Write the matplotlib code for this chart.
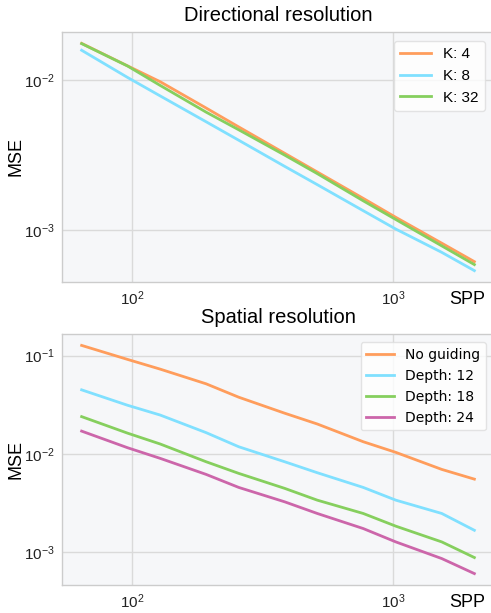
import matplotlib
matplotlib.use("Agg")
import matplotlib.pyplot as plt

# samples per pixel
spp = [64, 96, 128, 192, 256, 384, 512, 768, 1024, 1536, 2048]

# directional resolution
dir_labels = ["K: 4", "K: 8", "K: 32"]
mse_k4 = [0.01757, 0.01243, 0.00974, 0.00650, 0.00486, 0.00324, 0.00243, 0.00162, 0.00121, 0.000813, 0.000612]
mse_k8 = [0.0158, 0.0104, 0.00783, 0.00526, 0.00396, 0.00265, 0.00200, 0.00134, 0.00101, 0.000706, 0.000533]
mse_k32 = [0.0175, 0.0124, 0.0092, 0.0061, 0.00465, 0.00315, 0.00237, 0.00156, 0.00117, 0.00078, 0.000585]

# spatial resolution
spa_labels = ["No guiding", "Depth: 12", "Depth: 18", "Depth: 24"]
mse_none = [0.127, 0.0915, 0.0729, 0.0517, 0.0378, 0.0260, 0.0202, 0.01334, 0.0104, 0.00698, 0.00556]
mse_d12 = [0.0449, 0.0313, 0.0249, 0.0165, 0.01186, 0.00835, 0.00646, 0.00458, 0.0034, 0.00249, 0.00168]
mse_d18 = [0.0240, 0.0163, 0.01265, 0.00835, 0.00636, 0.00448, 0.0034, 0.00249, 0.00185, 0.00128, 0.000888]
mse_d24 = [0.0171, 0.01159, 0.00904, 0.00621, 0.00458, 0.00327, 0.00249, 0.00175, 0.00128, 0.000867, 0.00061]

orange = "#ff9d5c"
blue = "#80e0ff"
green = "#86cf5e"
purple = "#cc66aa"

plt.rcParams["font.family"] = ["Liberation Sans", "DejaVu Sans"]

W, H = 491, 613
fig = plt.figure(figsize=(W / 100, H / 100), dpi=100)


def style_axes(ax):
    ax.set_facecolor("#f6f7f9")
    ax.set_xscale("log")
    ax.set_yscale("log")
    ax.grid(True, which="major", color="#dadada", linewidth=1.0)
    ax.minorticks_off()
    ax.tick_params(length=0, labelsize=11, colors="#222222", pad=5)
    for side in ["left", "bottom", "top"]:
        ax.spines[side].set_color("#cccccc")
        ax.spines[side].set_linewidth(1.0)
    ax.spines["right"].set_visible(False)
    ax.set_axisbelow(True)
    ax.set_ylabel("MSE", fontsize=13, labelpad=0)
    ax.set_xlabel("SPP", fontsize=13)
    ax.xaxis.set_label_coords(0.937, -0.035)


# axes boxes in pixels: left, top, right, bottom
ax1 = fig.add_axes([62 / W, 1 - 282 / H, 432 / W, 250 / H])
ax2 = fig.add_axes([62 / W, 1 - 585 / H, 432 / W, 251 / H])

ax1.plot(spp, mse_k4, color=orange, lw=2, label=dir_labels[0])
ax1.plot(spp, mse_k8, color=blue, lw=2, label=dir_labels[1])
ax1.plot(spp, mse_k32, color=green, lw=2, label=dir_labels[2])
style_axes(ax1)
ax1.set_title("Directional resolution", fontsize=14.5, pad=8)
leg1 = ax1.legend(loc="upper right", fontsize=11, frameon=True, fancybox=True,
                  borderaxespad=0.6)
leg1.get_frame().set_edgecolor("#dddddd")
leg1.get_frame().set_facecolor("white")

ax2.plot(spp, mse_none, color=orange, lw=2, label=spa_labels[0])
ax2.plot(spp, mse_d12, color=blue, lw=2, label=spa_labels[1])
ax2.plot(spp, mse_d18, color=green, lw=2, label=spa_labels[2])
ax2.plot(spp, mse_d24, color=purple, lw=2, label=spa_labels[3])
style_axes(ax2)
ax2.set_title("Spatial resolution", fontsize=14.5, pad=8)
leg2 = ax2.legend(loc="upper right", frameon=True, fancybox=True,
                  borderaxespad=0.6, prop={"family": "DejaVu Sans", "size": 10})
leg2.get_frame().set_edgecolor("#dddddd")
leg2.get_frame().set_facecolor("white")

fig.savefig("out.png", dpi=100)
